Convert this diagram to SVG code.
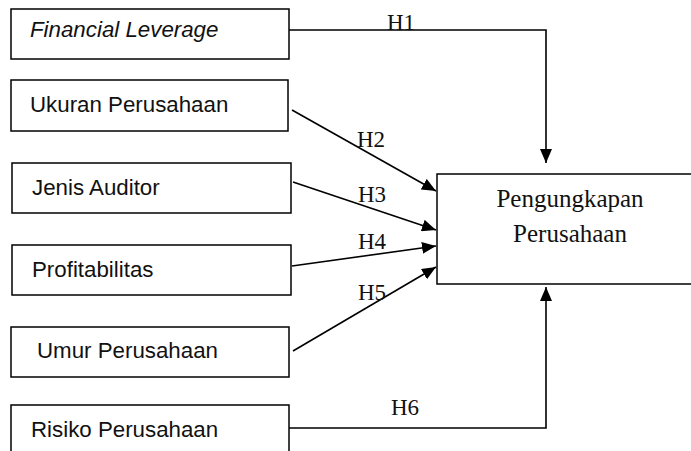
<svg xmlns="http://www.w3.org/2000/svg" width="691" height="451" viewBox="0 0 691 451">
<style>
.box{fill:#fff;stroke:#000;stroke-width:1.5}
.lbl{font-family:"Liberation Sans",Arial,sans-serif;font-size:22.3px;fill:#111}
.ser{font-family:"Liberation Serif","Times New Roman",serif;font-size:23px;fill:#111}
.big{font-size:25px}
.con{fill:none;stroke:#000;stroke-width:1.6}
</style>
<defs>
<marker id="ah" viewBox="0 0 14 12" refX="14" refY="6" markerWidth="14" markerHeight="12" markerUnits="userSpaceOnUse" orient="auto">
<path d="M0,0 L14,6 L0,12 Z" fill="#000"/>
</marker>
</defs>
<rect width="691" height="451" fill="#fff"/>
<g id="fl"><rect class="box" x="11" y="9" width="278" height="50"/><text class="lbl" x="30" y="37" font-style="italic">Financial Leverage</text></g>
<g id="ukuran"><rect class="box" x="11" y="80" width="277" height="51"/><text class="lbl" x="30" y="112">Ukuran Perusahaan</text></g>
<g id="jenis"><rect class="box" x="12" y="163" width="279" height="50"/><text class="lbl" x="32" y="195">Jenis Auditor</text></g>
<g id="profit"><rect class="box" x="12" y="245" width="279" height="50"/><text class="lbl" x="32" y="277">Profitabilitas</text></g>
<g id="umur"><rect class="box" x="11" y="327" width="278" height="50"/><text class="lbl" x="37" y="358">Umur Perusahaan</text></g>
<g id="risiko"><rect class="box" x="11" y="405" width="278" height="60"/><text class="lbl" x="31" y="437">Risiko Perusahaan</text></g>
<g id="target"><rect class="box" x="437" y="174" width="270" height="110"/><text class="ser big" x="570" y="207" text-anchor="middle">Pengungkapan</text><text class="ser big" x="570" y="242" text-anchor="middle">Perusahaan</text></g>
<g id="connectors">
<path class="con" d="M289,30 H546 V163" marker-end="url(#ah)"/>
<path class="con" d="M292,110 L436,191" marker-end="url(#ah)"/>
<path class="con" d="M293,182 L436,230" marker-end="url(#ah)"/>
<path class="con" d="M292,266 L436,246" marker-end="url(#ah)"/>
<path class="con" d="M293,351 L436,267" marker-end="url(#ah)"/>
<path class="con" d="M289,428 H546 V287" marker-end="url(#ah)"/>
<text class="ser" x="387" y="30">H1</text>
<text class="ser" x="357" y="147">H2</text>
<text class="ser" x="358" y="202">H3</text>
<text class="ser" x="358" y="249">H4</text>
<text class="ser" x="358" y="300">H5</text>
<text class="ser" x="391" y="415">H6</text>
</g>
</svg>
